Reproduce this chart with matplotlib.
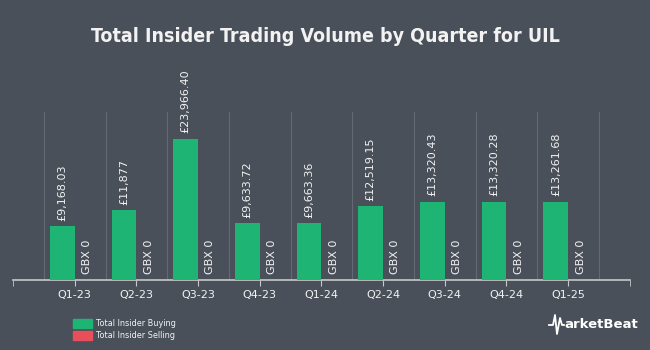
import matplotlib.pyplot as plt
from matplotlib.patches import Rectangle

quarters = ['Q1-23', 'Q2-23', 'Q3-23', 'Q4-23', 'Q1-24', 'Q2-24', 'Q3-24', 'Q4-24', 'Q1-25']
buying = [9168.03, 11877, 23966.40, 9633.72, 9663.36, 12519.15, 13320.43, 13320.28, 13261.68]
selling = [0, 0, 0, 0, 0, 0, 0, 0, 0]
buy_labels = ['£9,168.03', '£11,877', '£23,966.40', '£9,633.72', '£9,663.36',
              '£12,519.15', '£13,320.43', '£13,320.28', '£13,261.68']
sell_labels = ['GBX 0'] * 9

BG = '#4a505a'
GREEN = '#1db474'
RED = '#e84f5b'
TXT = '#f2f2f2'

fig = plt.figure(figsize=(6.5, 3.5), dpi=100, facecolor=BG)
ax = fig.add_axes([0.02, 0.2, 0.949, 0.48], facecolor=BG)

x = list(range(len(quarters)))
ax.bar([i - 0.2 for i in x], buying, width=0.4, color=GREEN, zorder=3)
ax.bar([i + 0.2 for i in x], selling, width=0.4, color=RED, zorder=3)

for i in x:
    ax.annotate(buy_labels[i], (i - 0.2, buying[i]), xytext=(0, 4), textcoords='offset points',
                rotation=90, ha='center', va='bottom', color=TXT, fontsize=8)
    ax.annotate(sell_labels[i], (i + 0.2, selling[i]), xytext=(0, 4), textcoords='offset points',
                rotation=90, ha='center', va='bottom', color=TXT, fontsize=8)

ax.set_xlim(-1, 9)
ax.set_ylim(0, 28560)
for g in [i - 0.5 for i in range(10)]:
    ax.axvline(g, color='#636a74', lw=0.8, zorder=1)

ax.set_xticks(x)
ax.set_xticklabels(quarters, color=TXT, fontsize=8)
ax.set_xticks([-1, 9], minor=True)
ax.tick_params(axis='x', which='both', length=4, color='#c8c8c8', pad=3)
ax.set_yticks([])
for s in ['top', 'right', 'left']:
    ax.spines[s].set_visible(False)
ax.spines['bottom'].set_color('#c8c8c8')
ax.spines['bottom'].set_linewidth(1.2)

fig.text(0.5, 0.895, 'Total Insider Trading Volume by Quarter for UIL', ha='center', va='center',
         color=TXT, fontsize=14, fontweight='bold', family='DejaVu Sans', stretch='condensed')

# legend
fig.patches.append(Rectangle((73 / 650, 1 - 328 / 350), 19 / 650, 9 / 350,
                             transform=fig.transFigure, color=GREEN))
fig.patches.append(Rectangle((73 / 650, 1 - 340 / 350), 19 / 650, 9 / 350,
                             transform=fig.transFigure, color=RED))
fig.text(96 / 650, 1 - 323 / 350, 'Total Insider Buying', color=TXT, fontsize=6.5, va='center',
         family='DejaVu Sans', stretch='condensed')
fig.text(96 / 650, 1 - 335 / 350, 'Total Insider Selling', color=TXT, fontsize=6.5, va='center',
         family='DejaVu Sans', stretch='condensed')

# logo
px = [549, 553, 555, 557, 560, 562, 564]
py = [325, 325, 315, 334, 318, 325, 325]
fig.add_artist(plt.Line2D([v / 650 for v in px], [1 - v / 350 for v in py],
                          transform=fig.transFigure, color='white', lw=1.3))
fig.text(564 / 650, 1 - 325 / 350, 'arketBeat', color='white', fontsize=9.5, fontweight='bold',
         va='center', ha='left')

fig.savefig('out.png', dpi=100, facecolor=BG)
